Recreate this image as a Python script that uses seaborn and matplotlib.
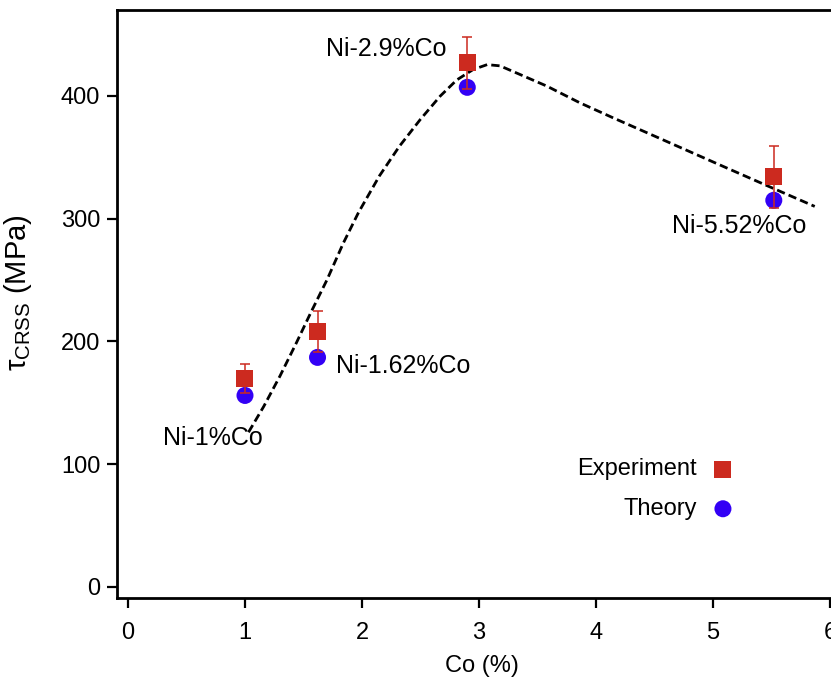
"""
Critical resolved shear stress vs Co content
Experiment vs theory for Ni-Co alloys
"""

import numpy as np
import pandas as pd
import matplotlib
matplotlib.use('Agg')
import matplotlib.pyplot as plt
import seaborn as sns

# Composition labels and data
alloys = ['Ni-1%Co', 'Ni-1.62%Co', 'Ni-2.9%Co', 'Ni-5.52%Co']
co_pct = [1.0, 1.62, 2.9, 5.52]
tau_exp = [170, 208, 427, 334]
tau_exp_err = [12, 17, 21, 25]
tau_theory = [156, 187, 407, 315]

# Dashed guide curve
curve_x = [1.03, 1.16, 1.30, 1.44, 1.56, 1.70, 1.84, 1.97, 2.15, 2.32, 2.50,
           2.67, 2.81, 2.95, 3.07, 3.18, 3.35, 3.58, 3.86, 4.15, 4.46, 5.03,
           5.46, 5.87]
curve_y = [126, 147, 172, 199, 223, 250, 280, 305, 335, 359, 381,
           400, 413, 421.5, 425.5, 424.5, 417.5, 408, 394.5, 382, 369, 345,
           327, 310]

x_ticks = [0, 1, 2, 3, 4, 5, 6]
y_ticks = [0, 100, 200, 300, 400]

RED = '#CC2A1F'
BLUE = '#3300F5'

sns.set_theme(style='ticks')
plt.rcParams['font.family'] = ['Liberation Sans', 'DejaVu Sans']
plt.rcParams['mathtext.fontset'] = 'custom'
plt.rcParams['mathtext.rm'] = 'Liberation Sans'
plt.rcParams['mathtext.it'] = 'Liberation Sans'
plt.rcParams['mathtext.bf'] = 'Liberation Sans'
plt.rcParams['text.color'] = 'black'
plt.rcParams['axes.labelcolor'] = 'black'
plt.rcParams['xtick.color'] = 'black'
plt.rcParams['ytick.color'] = 'black'

df = pd.DataFrame({'co': co_pct, 'exp': tau_exp, 'err': tau_exp_err,
                   'theory': tau_theory, 'alloy': alloys})
curve = pd.DataFrame({'co': curve_x, 'tau': curve_y})

fig = plt.figure(figsize=(8.31, 6.78), dpi=100)
ax = fig.add_axes([117 / 831, 1 - 598 / 678, 730.5 / 831, 588 / 678])

# guide curve
sns.lineplot(data=curve, x='co', y='tau', ax=ax, color='black', lw=2,
             linestyle=(0, (3, 1.5)), sort=False, zorder=2)

# theory points
sns.scatterplot(data=df, x='co', y='theory', ax=ax, marker='o', s=150,
                color=BLUE, edgecolor='none', zorder=3, label='Theory')

# experimental error bars + squares
ax.errorbar(df['co'], df['exp'], yerr=df['err'], fmt='none', ecolor=RED,
            elinewidth=1.1, capsize=3.5, capthick=1.1, zorder=4)
sns.scatterplot(data=df, x='co', y='exp', ax=ax, marker='s', s=150,
                color=RED, edgecolor='none', zorder=5, label='Experiment')

# composition labels
label_pos = [(0.727, 121, 'center'), (1.78, 180, 'left'),
             (2.21, 438.5, 'center'), (5.22, 294, 'center')]
for name, (lx, ly, ha) in zip(alloys, label_pos):
    ax.text(lx, ly, name, fontsize=18, ha=ha, va='center')

ax.set_xlim(-0.094, 6.15)
ax.set_ylim(-9, 470)
ax.set_xticks(x_ticks)
ax.set_yticks(y_ticks)
ax.set_xlabel('Co (%)', fontsize=17, labelpad=8)
ax.set_ylabel(r'$\tau_{\mathrm{CRSS}}$ (MPa)', fontsize=21)
ax.yaxis.set_label_coords(-0.1136, 0.52)
ax.tick_params(axis='both', labelsize=17, length=7, width=1.6, direction='out',
               color='black', pad=5)
ax.tick_params(axis='x', pad=10)

for side in ['left', 'bottom', 'top', 'right']:
    ax.spines[side].set_visible(True)
    ax.spines[side].set_linewidth(2)
    ax.spines[side].set_color('black')

# legend: text first, marker after
handles, labels = ax.get_legend_handles_labels()
order = [labels.index('Experiment'), labels.index('Theory')]
ax.legend([handles[i] for i in order], [labels[i] for i in order],
          loc='upper right', bbox_to_anchor=(756 / 831, 1 - 437 / 678),
          bbox_transform=fig.transFigure, frameon=False, markerfirst=False,
          fontsize=17, handletextpad=0.6, labelspacing=0.75, handlelength=1.0)

fig.savefig('out.png', dpi=100)
